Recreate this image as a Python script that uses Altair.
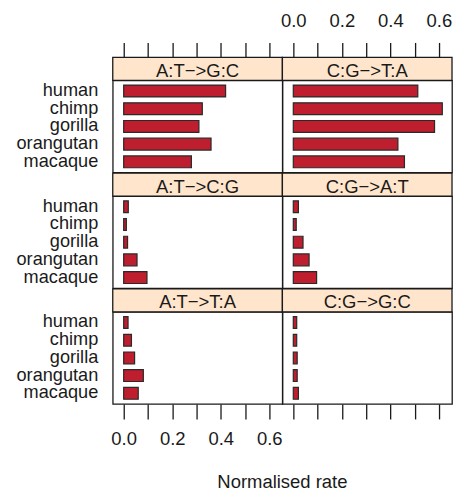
import altair as alt
import pandas as pd

# Species, top to bottom within each panel
species = ["human", "chimp", "gorilla", "orangutan", "macaque"]

# Normalised substitution rate per species, one list per substitution type
at_gc = [0.420, 0.324, 0.310, 0.360, 0.279]
cg_ta = [0.513, 0.614, 0.582, 0.431, 0.458]
at_cg = [0.019, 0.011, 0.016, 0.055, 0.096]
cg_at = [0.021, 0.012, 0.040, 0.065, 0.096]
at_ta = [0.018, 0.032, 0.045, 0.081, 0.060]
cg_gc = [0.014, 0.014, 0.016, 0.016, 0.021]

# Panel strip labels, laid out row by row (left, right)
panel_labels = ["A:T\u2212>G:C", "C:G\u2212>T:A",
                "A:T\u2212>C:G", "C:G\u2212>A:T",
                "A:T\u2212>T:A", "C:G\u2212>G:C"]
panel_values = [at_gc, cg_ta, at_cg, cg_at, at_ta, cg_gc]

tick_values = [0.0, 0.1, 0.2, 0.3, 0.4, 0.5, 0.6]

FONT = "Liberation Sans"
FS = 18.5
FS_Y = 18.2
INK = "#1a1a1a"
W, H = 170, 92.3
STRIP = 23
X_DOMAIN = [-0.045, 0.654]
EVEN_LABELS = "round(datum.value * 10) % 2 == 0 ? format(datum.value, '.1f') : ''"


def x_axis(row, col):
    common = dict(values=tick_values, domain=False, grid=False, tickSize=15,
                  tickWidth=1.3, tickColor=INK, labelExpr=EVEN_LABELS,
                  labelFont=FONT, labelFontSize=FS, labelColor=INK,
                  labelBaseline="alphabetic", title=None)
    if row == 0:
        return alt.Axis(orient="top", offset=STRIP, labels=(col == 1),
                        labelPadding=16, **common)
    if row == 2:
        return alt.Axis(orient="bottom", labels=(col == 0),
                        labelPadding=25.5, **common)
    return None


def panel(idx):
    row, col = divmod(idx, 2)
    df = pd.DataFrame({"species": species, "rate": panel_values[idx]})
    strip_df = pd.DataFrame({"label": [panel_labels[idx]]})

    y_axis = (alt.Axis(ticks=False, domain=False, grid=False, labelPadding=15,
                       labelFont=FONT, labelFontSize=FS_Y, labelColor=INK,
                       title=None)
              if col == 0 else None)

    bars = alt.Chart(df).mark_bar(
        fill="#BE1E2D", stroke="#2a2a2a", strokeWidth=1.2
    ).encode(
        x=alt.X("rate:Q", scale=alt.Scale(domain=X_DOMAIN, zero=False, nice=False),
                axis=x_axis(row, col)),
        x2=alt.datum(0),
        y=alt.Y("species:N", sort=species,
                scale=alt.Scale(paddingInner=1 / 3, paddingOuter=0.267),
                axis=y_axis),
    )

    strip_box = alt.Chart(strip_df).mark_rect(
        fill="#FFE5CC", stroke=INK, strokeWidth=1.3
    ).encode(x=alt.value(0), x2=alt.value(W), y=alt.value(-STRIP), y2=alt.value(0))

    strip_text = alt.Chart(strip_df).mark_text(
        font=FONT, fontSize=FS, color=INK, baseline="alphabetic", align="center"
    ).encode(text="label:N", x=alt.value(W / 2), y=alt.value(-3.5))

    return alt.layer(strip_box, strip_text, bars).properties(width=W, height=H)


chart = alt.concat(
    *[panel(i) for i in range(6)],
    columns=2,
    spacing={"row": STRIP, "column": 0},
    bounds="flush",
).properties(
    title=alt.TitleParams("Normalised rate", orient="bottom", anchor="middle",
                          frame="group", dx=W, font=FONT, fontSize=FS,
                          fontWeight="normal", color=INK, offset=25),
    padding={"left": 15, "top": 10, "right": 5, "bottom": 5},
).configure_view(
    stroke=INK, strokeWidth=1.3
)

chart.save("out.html", embed_options={"renderer": "svg", "actions": False})
